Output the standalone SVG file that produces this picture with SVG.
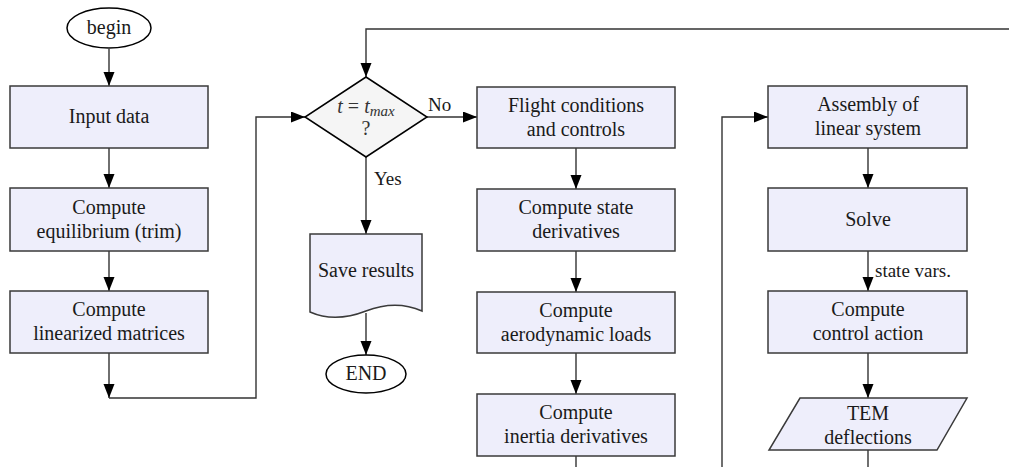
<svg xmlns="http://www.w3.org/2000/svg" width="1009" height="467" viewBox="0 0 1009 467">
<defs>
<marker id="arr" markerUnits="userSpaceOnUse" markerWidth="15" markerHeight="12" refX="14" refY="5.5" orient="auto">
<path d="M0,0 L14,5.5 L0,11 z" fill="#000"/>
</marker>
</defs>
<style>
.box{fill:#eeeefb;stroke:#3a3a3a;stroke-width:1.5}
.term{fill:#fff;stroke:#000;stroke-width:1.5}
.dia{fill:#f5f5f5;stroke:#000;stroke-width:1.5}
.t{text-anchor:middle}
.lbl{font-size:19px}
.c{fill:none;stroke:#333;stroke-width:1.4}
</style>
<rect width="1009" height="467" fill="#fff"/>
<g font-family="Times New Roman, Liberation Serif, DejaVu Serif, serif" font-size="20" fill="#1a1a1a">
<g id="connectors">
<path class="c" d="M109,49 V86" marker-end="url(#arr)"/>
<path class="c" d="M109,148 V188" marker-end="url(#arr)"/>
<path class="c" d="M109,251 V291" marker-end="url(#arr)"/>
<path class="c" d="M109,353 V398" marker-end="url(#arr)"/>
<path class="c" d="M109,398 H256 V117 H305" marker-end="url(#arr)"/>
<path class="c" d="M1009,29 H366 V77" marker-end="url(#arr)"/>
<path class="c" d="M427,117 H477" marker-end="url(#arr)"/>
<path class="c" d="M366,157 V234" marker-end="url(#arr)"/>
<path class="c" d="M366,313 V355" marker-end="url(#arr)"/>
<path class="c" d="M576,148 V189" marker-end="url(#arr)"/>
<path class="c" d="M576,251 V292" marker-end="url(#arr)"/>
<path class="c" d="M576,353 V394" marker-end="url(#arr)"/>
<path class="c" d="M576,456 V467"/>
<path class="c" d="M722,467 V117 H768" marker-end="url(#arr)"/>
<path class="c" d="M868,148 V188" marker-end="url(#arr)"/>
<path class="c" d="M868,251 V291" marker-end="url(#arr)"/>
<path class="c" d="M868,353 V398" marker-end="url(#arr)"/>
<path class="c" d="M868,450 V467"/>
<text class="lbl" x="428" y="111">No</text>
<text class="lbl" x="374" y="185">Yes</text>
<text class="lbl" x="875" y="277">state vars.</text>
</g>
<g id="begin">
<ellipse class="term" cx="109" cy="28" rx="42" ry="20"/>
<text class="t" x="109" y="34">begin</text>
</g>
<g id="input">
<rect class="box" x="10" y="86" width="198" height="62"/>
<text class="t" x="109" y="123">Input data</text>
</g>
<g id="equilibrium">
<rect class="box" x="10" y="188" width="198" height="63"/>
<text class="t" x="109" y="214">Compute</text>
<text class="t" x="109" y="238">equilibrium (trim)</text>
</g>
<g id="linearized">
<rect class="box" x="10" y="291" width="198" height="62"/>
<text class="t" x="109" y="316">Compute</text>
<text class="t" x="109" y="340">linearized matrices</text>
</g>
<g id="decision">
<polygon class="dia" points="366,77 427,117 366,157 305,117"/>
<text class="t" x="366" y="113" fill="#333"><tspan font-style="italic">t</tspan> = <tspan font-style="italic">t<tspan font-size="15" dy="3">max</tspan></tspan></text>
<text class="t" x="366" y="135" fill="#333">?</text>
</g>
<g id="save">
<path class="box" d="M310,234 H422 V311 C404,303 384,304 366,311 C348,318 328,320 310,312 Z"/>
<text class="t" x="366" y="277">Save results</text>
</g>
<g id="end">
<ellipse class="term" cx="366" cy="374" rx="40" ry="19"/>
<text class="t" x="366" y="380">END</text>
</g>
<g id="flight">
<rect class="box" x="477" y="87" width="198" height="61"/>
<text class="t" x="576" y="112">Flight conditions</text>
<text class="t" x="576" y="136">and controls</text>
</g>
<g id="state">
<rect class="box" x="477" y="189" width="198" height="62"/>
<text class="t" x="576" y="214">Compute state</text>
<text class="t" x="576" y="238">derivatives</text>
</g>
<g id="aero">
<rect class="box" x="477" y="292" width="198" height="61"/>
<text class="t" x="576" y="317">Compute</text>
<text class="t" x="576" y="341">aerodynamic loads</text>
</g>
<g id="inertia">
<rect class="box" x="477" y="394" width="198" height="62"/>
<text class="t" x="576" y="419">Compute</text>
<text class="t" x="576" y="443">inertia derivatives</text>
</g>
<g id="assembly">
<rect class="box" x="768" y="86" width="199" height="62"/>
<text class="t" x="868" y="111">Assembly of</text>
<text class="t" x="868" y="135">linear system</text>
</g>
<g id="solve">
<rect class="box" x="768" y="188" width="199" height="63"/>
<text class="t" x="868" y="226">Solve</text>
</g>
<g id="control">
<rect class="box" x="768" y="291" width="199" height="62"/>
<text class="t" x="868" y="316">Compute</text>
<text class="t" x="868" y="340">control action</text>
</g>
<g id="tem">
<polygon class="box" points="800,398 967,398 937,450 769,450"/>
<text class="t" x="868" y="420">TEM</text>
<text class="t" x="868" y="444">deflections</text>
</g>
</g>
</svg>
